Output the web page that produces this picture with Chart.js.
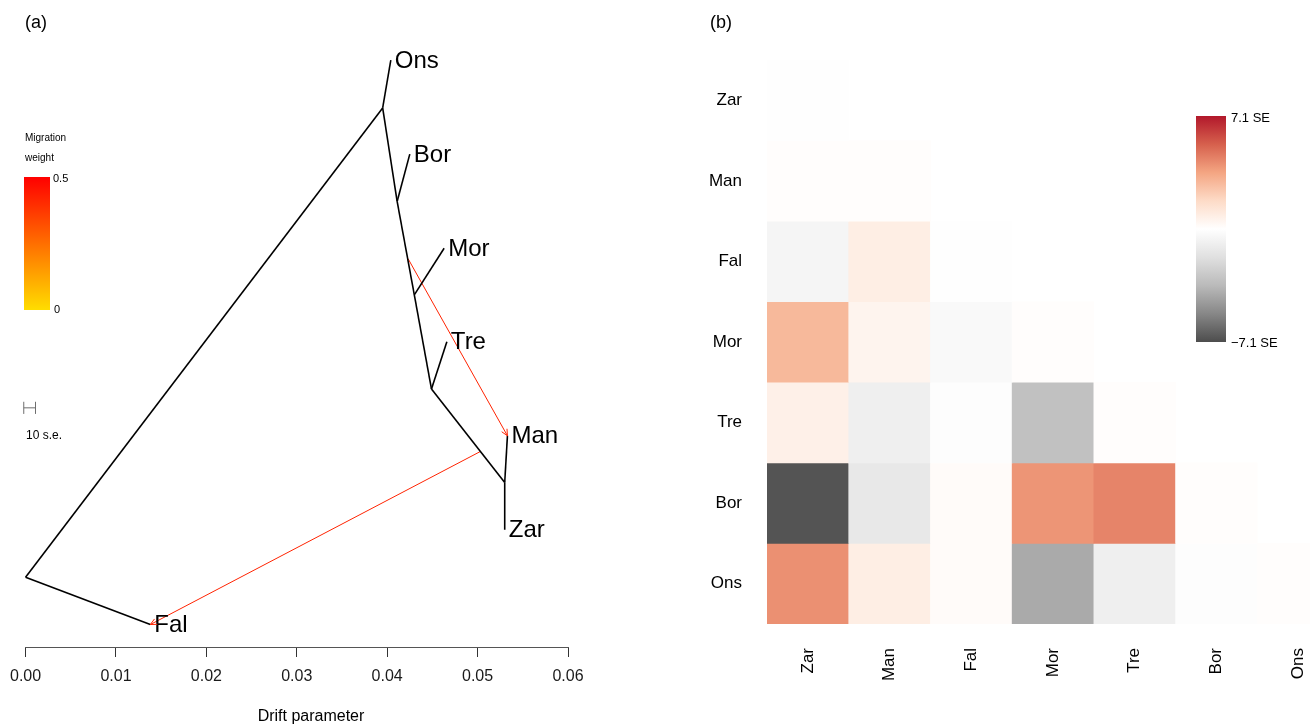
<!DOCTYPE html>
<html>
<head>
<meta charset="utf-8">
<title>Population tree and residual fit</title>
<script src="https://cdn.jsdelivr.net/npm/chart.js@4.4.0/dist/chart.umd.min.js"></script>
<style>
  html, body { margin: 0; padding: 0; background: #fff; overflow: hidden; width: 1310px; height: 725px; }
  body { position: relative; font-family: "Liberation Sans", Arial, Helvetica, sans-serif; color: #000; }
  canvas { position: absolute; top: 0; }
  #tree { left: 0; }
  #resid { left: 655px; }
  .lbl { position: absolute; white-space: nowrap; line-height: 1; transform: translateY(-50%); }
  .bar { position: absolute; }
</style>
</head>
<body>
<canvas id="tree" width="655" height="725"></canvas>
<canvas id="resid" width="720" height="725"></canvas>

<div class="lbl" style="left:25px;top:22px;font-size:18px">(a)</div>
<div class="lbl" style="left:710px;top:22px;font-size:18px">(b)</div>

<div class="lbl" style="left:25px;top:138px;font-size:10px">Migration</div>
<div class="lbl" style="left:25px;top:158px;font-size:10px">weight</div>
<div id="migBar" class="bar" style="left:24px;top:177px;width:26px;height:133px"></div>
<div class="lbl" id="migMaxLbl" style="left:53px;top:178px;font-size:11px"></div>
<div class="lbl" id="migMinLbl" style="left:54px;top:309px;font-size:11px"></div>

<div class="lbl" style="left:26px;top:435px;font-size:12px">10 s.e.</div>
<div class="lbl" style="left:311px;top:716px;font-size:16px;transform:translate(-50%,-50%)">Drift parameter</div>

<div id="seBar" class="bar" style="left:1196px;top:116px;width:30px;height:226px"></div>
<div class="lbl" id="seMaxLbl" style="left:1231px;top:117px;font-size:13px"></div>
<div class="lbl" id="seMinLbl" style="left:1231px;top:342px;font-size:13px"></div>

<script>
// ---------- tree (a) ----------
// node positions: drift parameter (x) and vertical layout position (y, 0..1)
const nodeNames  = ['root', 'n1', 'n2', 'n3', 'n4', 'n5', 'Ons', 'Bor', 'Mor', 'Tre', 'Man', 'Zar', 'Fal'];
const nodeDrift  = [0.0000, 0.0395, 0.0411, 0.0430, 0.0449, 0.0530, 0.0404, 0.0425, 0.0463, 0.0466, 0.0533, 0.0530, 0.0138];
const nodeHeight = [0.115, 0.888, 0.734, 0.580, 0.425, 0.271, 0.967, 0.812, 0.657, 0.503, 0.348, 0.193, 0.037];

// branches (parent -> child)
const edgeParent = ['root', 'n1', 'n1', 'n2', 'n2', 'n3', 'n3', 'n4', 'n4', 'n5', 'n5', 'root'];
const edgeChild  = ['n1', 'Ons', 'n2', 'Bor', 'n3', 'Mor', 'n4', 'Tre', 'n5', 'Man', 'Zar', 'Fal'];
const tipNames   = ['Ons', 'Bor', 'Mor', 'Tre', 'Man', 'Zar', 'Fal'];

// migration edges: origin on a branch, receiving population, weight
const migSourceDrift  = [0.0423, 0.0503];
const migSourceHeight = [0.640, 0.322];
const migTarget       = ['Man', 'Fal'];
const migWeight       = [0.42, 0.42];
const migWeightMax    = 0.5;

// 10 s.e. scale bar
const scaleBarStart  = -0.0002;
const scaleBarLength = 0.0013;
const scaleBarHeight = 0.394;

const driftTicks = [0.00, 0.01, 0.02, 0.03, 0.04, 0.05, 0.06];

// ---------- residuals (b), in standard errors ----------
const residPops = ['Zar', 'Man', 'Fal', 'Mor', 'Tre', 'Bor', 'Ons'];
const residZar = [-0.05];
const residMan = [0.10, 0.10];
const residFal = [-0.57, 0.84, -0.05];
const residMor = [2.90, 0.55, -0.34, 0.10];
const residTre = [0.74, -0.92, -0.10, -3.20, 0.10];
const residBor = [-6.90, -1.31, 0.20, 3.95, 4.40, 0.10];
const residOns = [4.10, 0.85, 0.20, -4.10, -0.92, -0.10, 0.10];
const residRows = [residZar, residMan, residFal, residMor, residTre, residBor, residOns];
const seLimit = 7.1;

// ---------- colour helpers ----------
const sePalette = ['#4D4D4D', '#878787', '#BABABA', '#E0E0E0', '#FFFFFF', '#FDDBC7', '#F4A582', '#D6604D', '#B2182B'];
function hexRgb(h) { return [1, 3, 5].map(i => parseInt(h.substr(i, 2), 16)); }
function seColor(v) {
  const c = Math.max(-seLimit, Math.min(seLimit, v));
  const t = (c / seLimit + 1) / 2 * (sePalette.length - 1);
  const i = Math.min(Math.floor(t), sePalette.length - 2);
  const f = t - i;
  const a = hexRgb(sePalette[i]), b = hexRgb(sePalette[i + 1]);
  const m = a.map((x, k) => Math.round(x + (b[k] - x) * f));
  return `rgb(${m[0]},${m[1]},${m[2]})`;
}
function migColor(w) {
  const hue = 52 * (1 - Math.min(w, migWeightMax) / migWeightMax);
  return `hsl(${hue},100%,50%)`;
}

// legends
document.getElementById('migBar').style.background =
  `linear-gradient(to bottom, ${migColor(migWeightMax)}, ${migColor(migWeightMax / 2)}, ${migColor(0)})`;
document.getElementById('migMaxLbl').textContent = String(migWeightMax);
document.getElementById('migMinLbl').textContent = '0';
document.getElementById('seBar').style.background =
  `linear-gradient(to bottom, ${sePalette.slice().reverse().join(', ')})`;
document.getElementById('seMaxLbl').textContent = `${seLimit} SE`;
document.getElementById('seMinLbl').textContent = `\u2212${seLimit} SE`;

Chart.defaults.font.family = '"Liberation Sans", Arial, Helvetica, sans-serif';
Chart.defaults.color = '#000';

const pos = name => { const i = nodeNames.indexOf(name); return { x: nodeDrift[i], y: nodeHeight[i] }; };

const branchSets = edgeParent.map((p, i) => ({
  data: [pos(p), pos(edgeChild[i])],
  showLine: true, borderColor: '#000', borderWidth: 1.6,
  pointRadius: 0, clip: false,
  tipLabel: tipNames.includes(edgeChild[i]) ? edgeChild[i] : null
}));

const migSets = migTarget.map((t, i) => ({
  data: [{ x: migSourceDrift[i], y: migSourceHeight[i] }, pos(t)],
  showLine: true, borderColor: migColor(migWeight[i]), borderWidth: 1,
  pointRadius: 0, clip: false, arrowHead: true
}));

const capH = 0.010;
const scaleSets = [
  [{ x: scaleBarStart, y: scaleBarHeight }, { x: scaleBarStart + scaleBarLength, y: scaleBarHeight }],
  [{ x: scaleBarStart, y: scaleBarHeight - capH }, { x: scaleBarStart, y: scaleBarHeight + capH }],
  [{ x: scaleBarStart + scaleBarLength, y: scaleBarHeight - capH }, { x: scaleBarStart + scaleBarLength, y: scaleBarHeight + capH }]
].map(d => ({ data: d, showLine: true, borderColor: '#6e6e6e', borderWidth: 1, pointRadius: 0, clip: false }));

// tip names and migration arrow heads
const treeDecor = {
  id: 'treeDecor',
  afterDatasetsDraw(chart) {
    const ctx = chart.ctx;
    ctx.save();
    chart.data.datasets.forEach((ds, di) => {
      const pts = chart.getDatasetMeta(di).data;
      if (ds.tipLabel) {
        const end = pts[1];
        ctx.font = '24px "Liberation Sans", Arial, sans-serif';
        ctx.fillStyle = '#000';
        ctx.textBaseline = 'middle';
        ctx.textAlign = 'left';
        ctx.fillText(ds.tipLabel, end.x + 4, end.y + 1);
      }
      if (ds.arrowHead) {
        const a = pts[0], b = pts[1];
        const ang = Math.atan2(b.y - a.y, b.x - a.x);
        const len = 7, spread = Math.PI / 7;
        ctx.strokeStyle = ds.borderColor;
        ctx.lineWidth = 1;
        ctx.beginPath();
        ctx.moveTo(b.x - len * Math.cos(ang - spread), b.y - len * Math.sin(ang - spread));
        ctx.lineTo(b.x, b.y);
        ctx.lineTo(b.x - len * Math.cos(ang + spread), b.y - len * Math.sin(ang + spread));
        ctx.stroke();
      }
    });
    ctx.restore();
  }
};

new Chart(document.getElementById('tree'), {
  type: 'scatter',
  data: { datasets: [...branchSets, ...migSets, ...scaleSets] },
  options: {
    responsive: false, animation: false,
    layout: { padding: { left: 25, right: 87, top: 40, bottom: 0 } },
    plugins: { legend: { display: false }, tooltip: { enabled: false } },
    scales: {
      x: {
        type: 'linear', min: driftTicks[0], max: driftTicks[driftTicks.length - 1],
        afterBuildTicks: a => { a.ticks = driftTicks.map(v => ({ value: v })); },
        afterFit: s => { s.height = 78; },
        ticks: { callback: v => v.toFixed(2), font: { size: 16 }, color: '#1a1a1a', padding: 10, autoSkip: false, maxRotation: 0 },
        grid: { drawOnChartArea: false, drawTicks: true, tickLength: 10, color: '#333', lineWidth: 1 },
        border: { display: true, color: '#555', width: 1 }
      },
      y: { type: 'linear', display: false, min: 0, max: 1 }
    }
  },
  plugins: [treeDecor]
});

// ---------- residual matrix ----------
const cellSets = residRows.map((vals, r) => ({
  data: residPops.map((c, j) => j < vals.length ? [r - 0.5, r + 0.5] : null),
  backgroundColor: residPops.map((c, j) => j < vals.length ? seColor(vals[j]) : 'rgba(0,0,0,0)'),
  borderWidth: 0, barPercentage: 1, categoryPercentage: 1, grouped: false
}));

new Chart(document.getElementById('resid'), {
  type: 'bar',
  data: { labels: residPops, datasets: cellSets },
  options: {
    responsive: false, animation: false,
    layout: { padding: { left: 0, right: 36, top: 60, bottom: 0 } },
    plugins: { legend: { display: false }, tooltip: { enabled: false } },
    scales: {
      x: {
        type: 'category',
        afterFit: s => { s.height = 101; },
        ticks: { minRotation: 90, maxRotation: 90, autoSkip: false, font: { size: 17 }, color: '#000', padding: 16 },
        grid: { display: false }, border: { display: false }
      },
      y: {
        type: 'linear', min: -0.5, max: residPops.length - 0.5, reverse: true,
        afterBuildTicks: a => { a.ticks = residPops.map((_, i) => ({ value: i })); },
        afterFit: s => { s.width = 112; },
        ticks: { callback: v => residPops[v], font: { size: 17 }, color: '#000', padding: 17 },
        grid: { display: false }, border: { display: false }
      }
    }
  }
});
</script>
</body>
</html>
